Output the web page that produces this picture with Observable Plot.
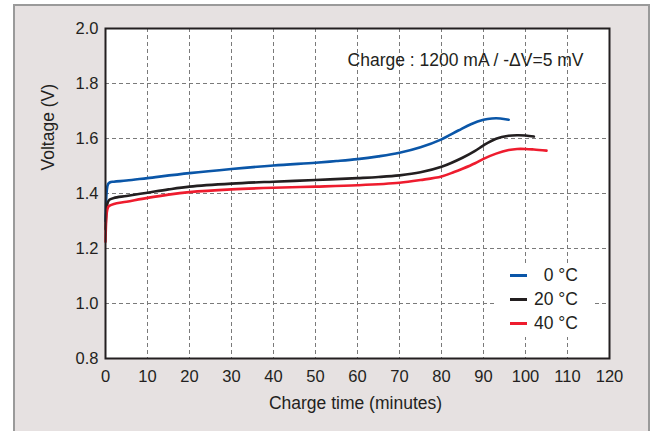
<!DOCTYPE html>
<html>
<head>
<meta charset="utf-8">
<script src="https://cdn.jsdelivr.net/npm/d3@7"></script>
<script src="https://cdn.jsdelivr.net/npm/@observablehq/plot@0.6"></script>
<style>
  html, body { margin: 0; padding: 0; background: white; }
  #wrap { position: relative; width: 651px; height: 431px; overflow: hidden; font-family: "Liberation Sans", Arial, sans-serif; color: #231f20; }
  #panel { position: absolute; left: 13px; top: 4px; width: 637px; height: 429px; box-sizing: border-box; background: #e6e1e1; border: 2px solid #9a9a9a; }
  #chart { position: absolute; left: 0; top: 0; }
  #legend { position: absolute; left: 495px; top: 263px; width: 100px; height: 74px; background: white; }
  .row { position: absolute; left: 0; width: 83px; height: 24px; }
  .sw { position: absolute; left: 15px; top: 11px; width: 17px; height: 3px; }
  .lab { position: absolute; right: 0; top: 0; font-size: 17.5px; line-height: 24px; white-space: nowrap; }
</style>
</head>
<body>
<div id="wrap">
  <div id="panel"></div>
  <div id="chart"></div>
  <div id="legend"></div>
</div>
<script>
// ---- data ----
const seriesNames = ["0 °C", "20 °C", "40 °C"];
const seriesColors = ["#0a56a8", "#231f20", "#ee1c2e"];

const time0 = [0, 0.3, 0.6, 1, 2, 5, 10, 20, 30, 40, 50, 55, 60, 65, 70, 75, 80, 84, 87, 90, 92, 94, 96];
const volt0 = [1.30, 1.41, 1.434, 1.440, 1.443, 1.447, 1.456, 1.474, 1.489, 1.502, 1.512, 1.518, 1.525, 1.535, 1.548, 1.568, 1.597, 1.629, 1.652, 1.668, 1.673, 1.673, 1.668];

const time1 = [0, 0.3, 0.6, 1, 2, 5, 10, 15, 20, 30, 40, 50, 60, 65, 70, 75, 80, 85, 88, 90, 93, 96, 98, 100, 102];
const volt1 = [1.27, 1.35, 1.370, 1.378, 1.384, 1.391, 1.403, 1.415, 1.425, 1.436, 1.443, 1.449, 1.456, 1.460, 1.466, 1.477, 1.497, 1.530, 1.555, 1.575, 1.599, 1.610, 1.612, 1.611, 1.607];

const time2 = [0, 0.3, 0.6, 1, 2, 5, 10, 15, 20, 30, 40, 50, 60, 70, 75, 80, 83, 85, 88, 90, 93, 96, 98, 100, 102, 105];
const volt2 = [1.225, 1.33, 1.350, 1.356, 1.362, 1.370, 1.384, 1.396, 1.405, 1.415, 1.421, 1.425, 1.430, 1.439, 1.449, 1.462, 1.478, 1.490, 1.510, 1.526, 1.545, 1.558, 1.562, 1.562, 1.560, 1.556];

const xTicks = [0, 10, 20, 30, 40, 50, 60, 70, 80, 90, 100, 110, 120];
const yTicks = [0.8, 1.0, 1.2, 1.4, 1.6, 1.8, 2.0];

const xTitle = "Charge time (minutes)";
const yTitle = "Voltage (V)";
const note = "Charge : 1200 mA / -ΔV=5 mV";

// ---- build ----
const times = [time0, time1, time2];
const volts = [volt0, volt1, volt2];
const rows = [];
seriesNames.forEach((s, i) => times[i].forEach((t, j) => rows.push({series: s, t, v: volts[i][j]})));

const gridStyle = {stroke: "#7a7a7a", strokeOpacity: 1, strokeWidth: 1, strokeDasharray: "4,3"};

const plot = Plot.plot({
  width: 651,
  height: 431,
  marginLeft: 105,
  marginRight: 42,
  marginTop: 28,
  marginBottom: 73,
  style: {background: "transparent", fontFamily: "'Liberation Sans', Arial, sans-serif", fontSize: "16px", color: "#231f20", overflow: "visible"},
  x: {domain: [0, 120]},
  y: {domain: [0.8, 2.0]},
  color: {domain: seriesNames, range: seriesColors},
  marks: [
    Plot.frame({fill: "white", stroke: "none"}),
    Plot.gridX(xTicks, gridStyle),
    Plot.gridY(yTicks, gridStyle),
    Plot.line(rows, {x: "t", y: "v", z: "series", stroke: "series", strokeWidth: 2.6, curve: "catmull-rom"}),
    Plot.frame({stroke: "#231f20", strokeWidth: 2}),
    Plot.axisX(xTicks, {tickSize: 0, tickPadding: 12, label: null, fill: "#231f20", fontSize: 16.5}),
    Plot.axisY(yTicks, {tickSize: 0, tickPadding: 7, tickFormat: d3.format(".1f"), label: null, fill: "#231f20", fontSize: 16.5}),
    Plot.text([xTitle], {frameAnchor: "bottom", dy: 45, dx: -2, lineAnchor: "middle", fontSize: 17.5, fill: "#231f20"}),
    Plot.text([yTitle], {frameAnchor: "left", rotate: -90, dx: -57, dy: -23, lineAnchor: "middle", fontSize: 17.5, fill: "#231f20"}),
    Plot.text([note], {frameAnchor: "top-right", textAnchor: "end", lineAnchor: "middle", dx: -26, dy: 32, fontSize: 17.5, fill: "#231f20"})
  ]
});
document.getElementById("chart").appendChild(plot);

// ---- legend ----
const legend = document.getElementById("legend");
seriesNames.forEach((s, i) => {
  const row = document.createElement("div");
  row.className = "row";
  row.style.top = (i * 24) + "px";
  const sw = document.createElement("div");
  sw.className = "sw";
  sw.style.background = seriesColors[i];
  const lab = document.createElement("div");
  lab.className = "lab";
  lab.textContent = s;
  row.appendChild(sw);
  row.appendChild(lab);
  legend.appendChild(row);
});
</script>
</body>
</html>
